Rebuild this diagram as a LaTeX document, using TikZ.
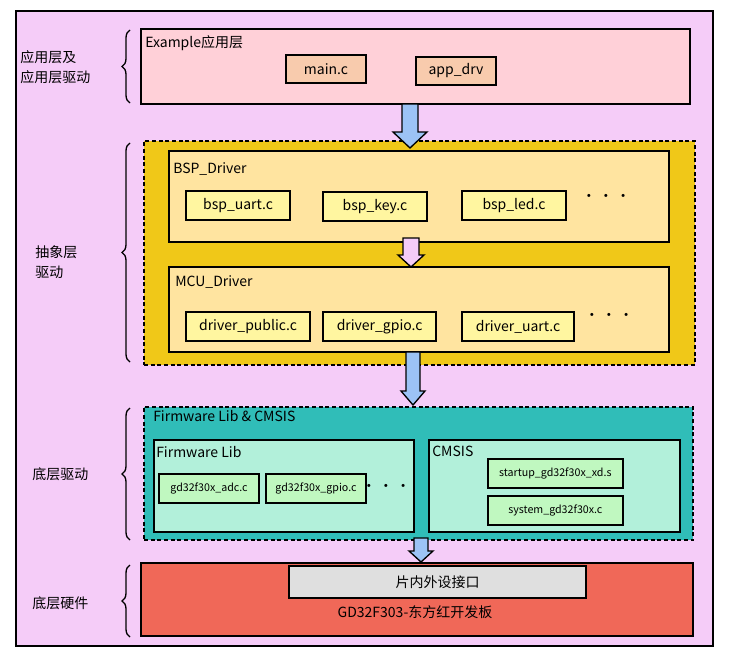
\documentclass[tikz,border=0pt]{standalone}
\usepackage{fontspec}
\setmainfont{Noto Sans CJK SC}
\usetikzlibrary{positioning,decorations.pathreplacing}

\definecolor{bgpink}{HTML}{F5CCF8}
\definecolor{appred}{HTML}{FFD0D8}
\definecolor{fileorange}{HTML}{F8CBAD}
\definecolor{absyellow}{HTML}{F0C818}
\definecolor{drvcream}{HTML}{FFE4A0}
\definecolor{filelemon}{HTML}{FFF6A0}
\definecolor{fwteal}{HTML}{30BDB8}
\definecolor{fwmint}{HTML}{B2F0DA}
\definecolor{filegreen}{HTML}{C0F8C0}
\definecolor{boardred}{HTML}{F06858}
\definecolor{arrowblue}{HTML}{9CC3F5}

% block arrow: x, y top, y bottom, half shaft, half head, head length, fill
\newcommand{\blockarrow}[7]{%
  \draw[line width=1pt, fill=#7] (#1-#4,#2) -- (#1+#4,#2) -- (#1+#4,#3-#6) -- (#1+#5,#3-#6)
    -- (#1,#3) -- (#1-#5,#3-#6) -- (#1-#4,#3-#6) -- cycle;}

\tikzset{
  layer/.style={draw=black, line width=1.5pt, anchor=north west, inner sep=0pt},
  dashlayer/.style={layer, dashed, dash pattern=on 3pt off 2pt},
  file/.style={draw=black, line width=1.5pt, font=\fontsize{10.5}{12}\selectfont, inner sep=2pt, anchor=north west},
  smallfile/.style={file, font=\fontsize{8}{10}\selectfont},
  title/.style={anchor=north west, font=\fontsize{10.5}{12}\selectfont, inner sep=0pt},
  side/.style={anchor=west, align=left, font=\fontsize{10.5}{15}\selectfont, inner sep=0pt},
  dots/.style={font=\fontsize{11}{11}\selectfont, inner sep=0pt},
  bracket/.style={decorate, decoration={brace, amplitude=6pt}, line width=1pt}
}

\begin{document}
\begin{tikzpicture}[x=0.75pt, y=-0.75pt]

    \useasboundingbox (0,0) rectangle (735,660);

    % Outer frame
    \draw[fill=bgpink, line width=1.5pt] (16,11) rectangle (713,646);

    % Application layer
    \node[layer, fill=appred, minimum width=412pt, minimum height=56pt] (app) at (140,28) {};
    \node[title] (apptitle) at (145,35) {Example应用层};
    \node[file, fill=fileorange, minimum width=60pt, minimum height=21pt] (main) at (285,54) {main.c};
    \node[file, fill=fileorange, minimum width=60pt, minimum height=21pt] (appdrv) at (415,56) {app\_drv};

    % Abstraction layer
    \node[dashlayer, fill=absyellow, minimum width=413pt, minimum height=168pt] (abs) at (143,140) {};
    \node[layer, fill=drvcream, minimum width=375pt, minimum height=68pt] (bsp) at (168,150) {};
    \node[title] (bsptitle) at (173,162) {BSP\_Driver};
    \node[file, fill=filelemon, minimum width=78pt, minimum height=22pt] (bspuart) at (185,190) {bsp\_uart.c};
    \node[file, fill=filelemon, minimum width=78pt, minimum height=22pt] (bspkey) at (322,191) {bsp\_key.c};
    \node[file, fill=filelemon, minimum width=78pt, minimum height=22pt] (bspled) at (461,190) {bsp\_led.c};
    \node[dots] (bspdots) at (606,198) {\textbullet\,\textbullet\,\textbullet};

    \node[layer, fill=drvcream, minimum width=375pt, minimum height=64pt] (mcu) at (168,266) {};
    \node[title] (mcutitle) at (175,275) {MCU\_Driver};
    \node[file, fill=filelemon, minimum width=93pt, minimum height=22pt] (drvpub) at (185,311) {driver\_public.c};
    \node[file, fill=filelemon, minimum width=85pt, minimum height=22pt] (drvgpio) at (322,311) {driver\_gpio.c};
    \node[file, fill=filelemon, minimum width=84pt, minimum height=22pt] (drvuart) at (461,311) {driver\_uart.c};
    \node[dots] (mcudots) at (609,317) {\textbullet\,\textbullet\,\textbullet};

    % Firmware layer
    \node[dashlayer, fill=fwteal, minimum width=412pt, minimum height=100pt] (fw) at (143,406) {};
    \node[title] (fwtitle) at (153,410) {Firmware Lib \& CMSIS};
    \node[layer, fill=fwmint, minimum width=195pt, minimum height=69pt] (fwlib) at (153,439) {};
    \node[title] (fwlibtitle) at (156,446) {Firmware Lib};
    \node[smallfile, fill=filegreen, minimum width=75pt, minimum height=22pt] (adc) at (158,473) {gd32f30x\_adc.c};
    \node[smallfile, fill=filegreen, minimum width=75pt, minimum height=22pt] (gpio) at (265,473) {gd32f30x\_gpio.c};
    \node[dots] (fwdots) at (386,488) {\textbullet\,\textbullet\,\textbullet};
    \node[layer, fill=fwmint, minimum width=188pt, minimum height=69pt] (cmsis) at (428,439) {};
    \node[title] (cmsistitle) at (432,446) {CMSIS};
    \node[smallfile, fill=filegreen, minimum width=101pt, minimum height=22pt] (startup) at (487,458) {startup\_gd32f30x\_xd.s};
    \node[smallfile, fill=filegreen, minimum width=101pt, minimum height=22pt] (system) at (487,495) {system\_gd32f30x.c};

    % Hardware layer
    \node[layer, fill=boardred, minimum width=414pt, minimum height=55pt] (board) at (140,562) {};
    \node[layer, fill=gray!25, minimum width=223pt, minimum height=24pt, font=\fontsize{10.5}{12}\selectfont] (periph) at (288,565) {片内外设接口};
    \node[font=\fontsize{10.5}{12}\selectfont] (boardname) at (415,612) {GD32F303-东方红开发板};

    % Arrows between layers
    \blockarrow{410}{104}{148}{8}{17}{16}{arrowblue}
    \blockarrow{411}{238}{267}{8}{13}{12}{bgpink}
    \blockarrow{413}{352}{405}{7}{12}{14}{arrowblue}
    \blockarrow{421}{538}{562}{7}{12}{11}{arrowblue}

    % Side labels with braces
    \coordinate (b1t) at (130,30);
    \coordinate (b1b) at (130,103);
    \draw[bracket] (b1b) -- (b1t);
    \node[side] (lapp) at (20,67) {应用层及\\应用层驱动};
    \coordinate (b2t) at (130,143);
    \coordinate (b2b) at (130,362);
    \draw[bracket] (b2b) -- (b2t);
    \node[side] (labs) at (35,262) {抽象层\\驱动};
    \coordinate (b3t) at (130,408);
    \coordinate (b3b) at (130,540);
    \draw[bracket] (b3b) -- (b3t);
    \node[side] (lfw) at (32,474) {底层驱动};
    \coordinate (b4t) at (130,565);
    \coordinate (b4b) at (130,637);
    \draw[bracket] (b4b) -- (b4t);
    \node[side] (lhw) at (32,603) {底层硬件};

\end{tikzpicture}
\end{document}
